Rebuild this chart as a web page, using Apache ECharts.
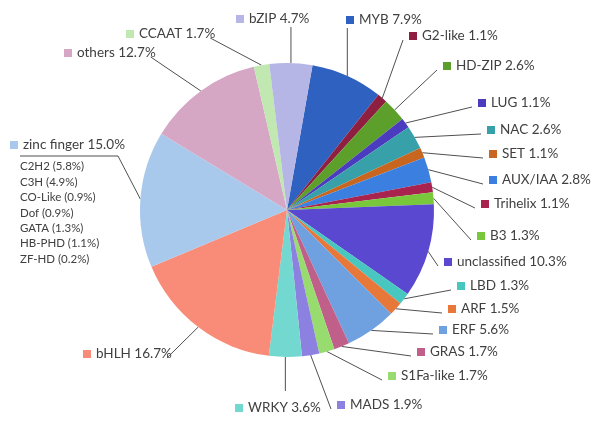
<!DOCTYPE html>
<html>
<head>
<meta charset="utf-8">
<script src="https://cdn.jsdelivr.net/npm/echarts@6/dist/echarts.min.js"></script>
<style>html,body{margin:0;padding:0;background:#fff}#c{width:600px;height:430px}</style>
</head>
<body>
<div id="c"></div>
<script>
// ---- data ----
const names = ['MYB','G2-like','HD-ZIP','LUG','NAC','SET','AUX/IAA','Trihelix','B3','unclassified','LBD','ARF','ERF','GRAS','S1Fa-like','MADS','WRKY','bHLH','zinc finger','others','CCAAT','bZIP'];
const values = [7.9,1.1,2.6,1.1,2.6,1.1,2.8,1.1,1.3,10.3,1.3,1.5,5.6,1.7,1.7,1.9,3.6,16.7,15.0,12.7,1.7,4.7];
const zincSubNames = ['C2H2','C3H','CO-Like','Dof','GATA','HB-PHD','ZF-HD'];
const zincSubValues = [5.8,4.9,0.9,0.9,1.3,1.1,0.2];

// ---- styles / layout (not data) ----
const colors = ['#2f62c0','#8e1f40','#5c9f2a','#4a3bbf','#38a0a8','#c8651f','#3b80e0','#a8244f','#79c83c','#5a48d0','#48c6c0','#e8773a','#6fa1e0','#c0608a','#98dc70','#8c80e0','#72d8d0','#f88c78','#a9c9ec','#d5a7c5','#c2e8b2','#b5b5e6'];
// label anchor (left edge of key square, vertical centre of first text line)
const labelPos = [[346,20],[409,36],[443,66],[478,103],[487,130],[489,154],[489,180],[481,204],[477,236],[444,262],[457,286],[448,309],[439,330],[417,352],[388,376],[337,405],[235,408],[83,354],[10,145],[64,53],[126,34],[236,19]];
// where the leader line meets the label: t = below label (vertical), b = above label (vertical), r = left of label, l = right end of label, z = underline end
const labelSide = ['t','r','r','r','r','r','r','r','r','r','r','r','r','r','r','r','b','l','z','l','l','t'];

const FONT = 'Lato';
const TXT = '#404040';
const chart = echarts.init(document.getElementById('c'), null, {renderer:'canvas'});
const data = names.map((n,i)=>({
  name:n, value:values[i], itemStyle:{color:colors[i]},
  label:{rich:{m:{width:8,height:8,backgroundColor:colors[i],align:'left'}}}
}));

chart.setOption({
  animation:false,
  series:[{
    type:'pie', center:[287,210], radius:147, startAngle:80, clockwise:true,
    avoidLabelOverlap:false,
    itemStyle:{borderWidth:0},
    label:{show:true, position:'outside', fontFamily:FONT, fontSize:13.5, color:TXT,
      formatter:(p)=>{
        let s='{m|}{t|'+p.name+' '+p.value.toFixed(1)+'%}';
        if(p.name==='zinc finger'){
          s+='\n{sp|}{u|}';
          zincSubNames.forEach((z,k)=>{ s+='\n{s|'+z+' ('+zincSubValues[k].toFixed(1)+'%)}'; });
        }
        return s;
      },
      rich:{t:{fontFamily:FONT,fontSize:13.5,color:TXT,align:'left',padding:[0,0,0,5],lineHeight:16},
        s:{fontFamily:FONT,fontSize:11.5,color:TXT,lineHeight:15.4,align:'left',padding:[0,0,0,10]},
        sp:{width:10,height:1,align:'left',lineHeight:6},
        u:{width:98,height:1,backgroundColor:'#505050',align:'left',lineHeight:6}}
    },
    labelLine:{show:true, length:10, length2:5, lineStyle:{color:'#505050', width:1}},
    labelLayout:(p)=>{
      const i = p.dataIndex;
      const x = labelPos[i][0], y = labelPos[i][1];
      const p0 = p.labelLinePoints ? p.labelLinePoints[0] : [x,y];
      const side = labelSide[i];
      let end;
      if(side==='z'){
        return {x:x, y:y-8, align:'left', verticalAlign:'top', labelLinePoints:[p0,[x+108,y+11]]};
      }
      if(side==='t') end=[p0[0], y+8];
      else if(side==='b') end=[p0[0], y-17];
      else if(side==='r') end=[x-6, y+4];
      else end=[x+p.labelRect.width-5, y+4];
      return {x:x, y:y, align:'left', verticalAlign:'middle', labelLinePoints:[p0,end]};
    },
    data
  }]
});
</script>
</body>
</html>
